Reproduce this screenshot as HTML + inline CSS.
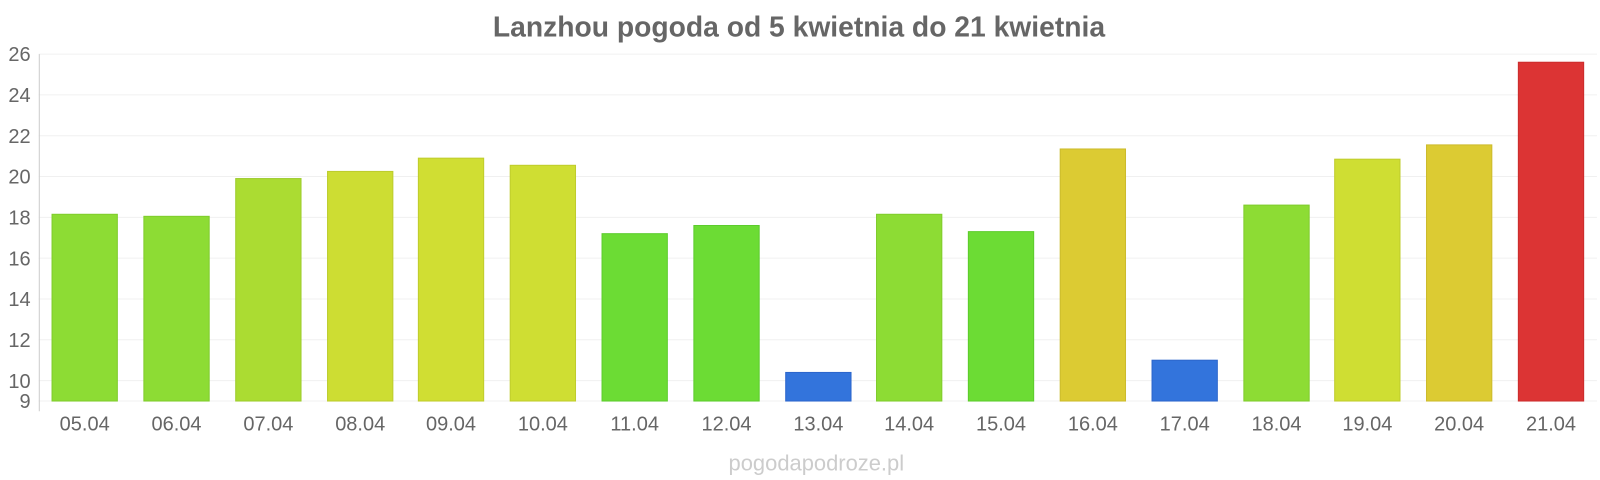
<!DOCTYPE html>
<html><head><style>
body{margin:0;background:#fff;}
svg{display:block;font-family:"Liberation Sans",sans-serif;}
</style></head><body>
<svg width="1600" height="480" xmlns="http://www.w3.org/2000/svg">
<g transform="scale(1.0204)">
<text x="783" y="36" text-anchor="middle" font-size="27.7" font-weight="bold" fill="#666">Lanzhou pogoda od 5 kwietnia do 21 kwietnia</text>
<g stroke="#f0f0f0" stroke-width="1">
<line x1="38" x2="1565" y1="53" y2="53"/><line x1="38" x2="1565" y1="93" y2="93"/>
<line x1="38" x2="1565" y1="133" y2="133"/><line x1="38" x2="1565" y1="173" y2="173"/>
<line x1="38" x2="1565" y1="213" y2="213"/><line x1="38" x2="1565" y1="253" y2="253"/>
<line x1="38" x2="1565" y1="293" y2="293"/><line x1="38" x2="1565" y1="333" y2="333"/>
<line x1="38" x2="1565" y1="373" y2="373"/><line x1="38" x2="1565" y1="393" y2="393"/>
</g>
<line x1="38.5" x2="38.5" y1="53" y2="403" stroke="#ccc"/>
<g font-size="19.6" fill="#666" text-anchor="end">
<text x="30" y="60">26</text><text x="30" y="100">24</text><text x="30" y="140">22</text>
<text x="30" y="180">20</text><text x="30" y="220">18</text><text x="30" y="260">16</text>
<text x="30" y="300">14</text><text x="30" y="340">12</text><text x="30" y="380">10</text>
<text x="30" y="400">9</text>
</g>
<g stroke-width="1">
<rect x="51" y="210" width="64" height="183" fill="#8ddc34" stroke="#7fcc2c"/>
<rect x="141" y="212" width="64" height="181" fill="#8ddc34" stroke="#7fcc2c"/>
<rect x="231" y="175" width="64" height="218" fill="#abdc32" stroke="#9ccc2c"/>
<rect x="321" y="168" width="64" height="225" fill="#cddd33" stroke="#bccc2c"/>
<rect x="410" y="155" width="64" height="238" fill="#d0de33" stroke="#bfcc2c"/>
<rect x="500" y="162" width="64" height="231" fill="#cfde33" stroke="#bfcc2c"/>
<rect x="590" y="229" width="64" height="164" fill="#6cdc34" stroke="#5ccc2c"/>
<rect x="680" y="221" width="64" height="172" fill="#6cdc34" stroke="#5ccc2c"/>
<rect x="770" y="365" width="64" height="28" fill="#3374dc" stroke="#2c66cc"/>
<rect x="859" y="210" width="64" height="183" fill="#8ddc34" stroke="#7fcc2c"/>
<rect x="949" y="227" width="64" height="166" fill="#6cdc34" stroke="#5ccc2c"/>
<rect x="1039" y="146" width="64" height="247" fill="#dccb33" stroke="#ccbb2c"/>
<rect x="1129" y="353" width="64" height="40" fill="#3374dc" stroke="#2c66cc"/>
<rect x="1219" y="201" width="64" height="192" fill="#8ddc34" stroke="#7fcc2c"/>
<rect x="1308" y="156" width="64" height="237" fill="#cfde33" stroke="#bfcc2c"/>
<rect x="1398" y="142" width="64" height="251" fill="#dccb33" stroke="#ccbb2c"/>
<rect x="1488" y="61" width="64" height="332" fill="#dc3434" stroke="#cc2c2c"/>
</g>
<g font-size="19.6" fill="#666" text-anchor="middle">
<text x="83" y="422">05.04</text><text x="173" y="422">06.04</text><text x="263" y="422">07.04</text>
<text x="353" y="422">08.04</text><text x="442" y="422">09.04</text><text x="532" y="422">10.04</text>
<text x="622" y="422">11.04</text><text x="712" y="422">12.04</text><text x="802" y="422">13.04</text>
<text x="891" y="422">14.04</text><text x="981" y="422">15.04</text><text x="1071" y="422">16.04</text>
<text x="1161" y="422">17.04</text><text x="1251" y="422">18.04</text><text x="1340" y="422">19.04</text>
<text x="1430" y="422">20.04</text><text x="1520" y="422">21.04</text>
</g>
<text x="800" y="461" text-anchor="middle" font-size="21.5" fill="#ccc">pogodapodroze.pl</text>
</g>
</svg>
</body></html>
